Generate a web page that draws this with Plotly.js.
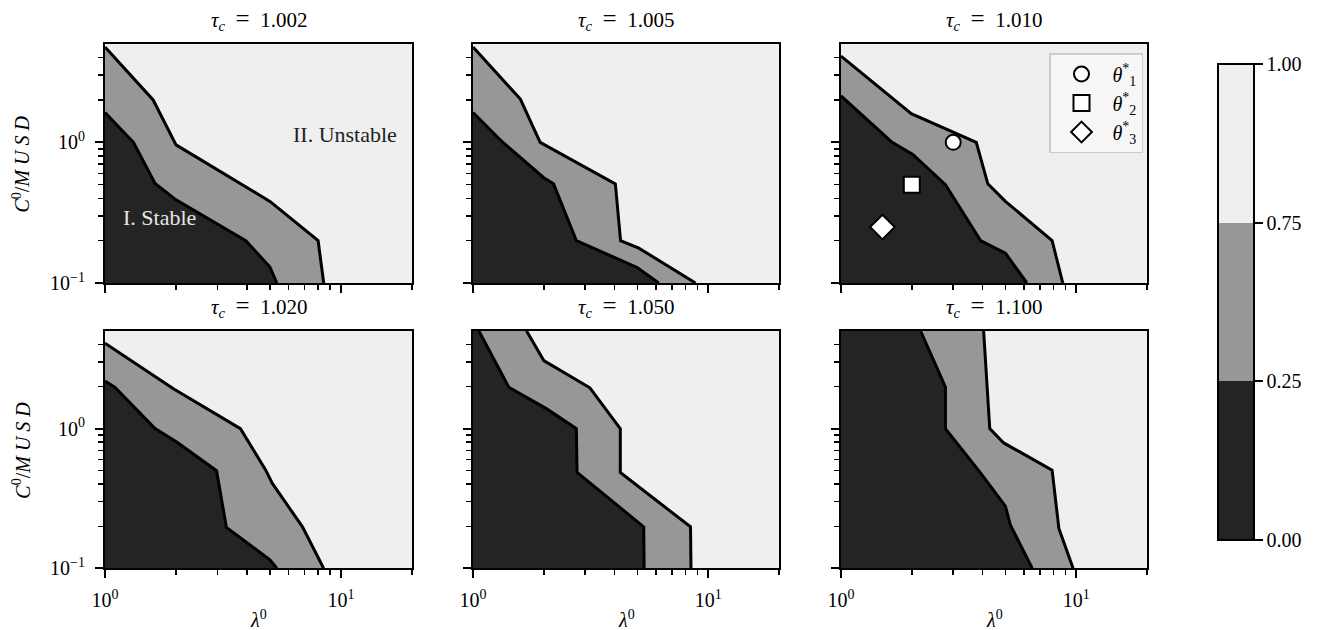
<!DOCTYPE html>
<html>
<head>
<meta charset="utf-8">
<script src="https://cdn.plot.ly/plotly-3.0.1.min.js"></script>
<style>html,body{margin:0;padding:0;background:#fff;}#chart{width:1325px;height:630px;}</style>
</head>
<body>
<div id="chart"></div>
<script>
// ---------------- data ----------------
const tauLabels = ['1.002', '1.005', '1.010', '1.020', '1.050', '1.100'];
const X_RANGE = [1, 20];
const Y_RANGE = [0.1, 5];

// boundary between grey and light region (upper), and dark and grey (lower)
const hi1002X = [1, 1.6, 2.0, 5.0, 8.0, 8.45];
const hi1002Y = [4.75, 2.0, 0.96, 0.38, 0.2, 0.1];
const lo1002X = [1, 1.32, 1.63, 2.0, 3.95, 5.0, 5.35];
const lo1002Y = [1.63, 1.0, 0.51, 0.39, 0.2, 0.13, 0.1];

const hi1005X = [1, 1.59, 1.93, 4.03, 4.24, 5.07, 8.83];
const hi1005Y = [4.75, 2.03, 1.0, 0.507, 0.2, 0.177, 0.1];
const lo1005X = [1, 1.33, 2.0, 2.2, 2.75, 4.99, 6.16];
const lo1005Y = [1.63, 1.01, 0.56, 0.507, 0.2, 0.129, 0.1];

const hi1010X = [1, 1.99, 3.76, 4.21, 5.0, 7.9, 8.77];
const hi1010Y = [4.1, 1.6, 1.0, 0.507, 0.381, 0.2, 0.1];
const lo1010X = [1, 1.65, 2.02, 2.78, 3.92, 5.0, 6.17];
const lo1010Y = [2.14, 1.0, 0.82, 0.5, 0.2, 0.163, 0.1];

const hi1020X = [1, 1.95, 3.75, 4.8, 5.12, 6.87, 8.44];
const hi1020Y = [4.09, 1.93, 1.0, 0.504, 0.405, 0.198, 0.1];
const lo1020X = [1, 1.10, 1.63, 2.02, 2.97, 3.27, 5.0, 5.35];
const lo1020Y = [2.19, 1.98, 1.0, 0.8, 0.5, 0.196, 0.115, 0.1];

const hi1050X = [1.69, 2.0, 3.14, 4.23, 4.23, 8.41, 8.45];
const hi1050Y = [5, 3.07, 1.96, 1.0, 0.485, 0.198, 0.1];
const lo1050X = [1.06, 1.42, 2.05, 2.75, 2.77, 5.32, 5.34];
const lo1050Y = [5, 1.98, 1.39, 1.0, 0.486, 0.198, 0.1];

const hi1100X = [4.04, 4.29, 4.92, 7.9, 8.44, 9.7];
const hi1100Y = [5, 1.0, 0.79, 0.504, 0.193, 0.1];
const lo1100X = [2.18, 2.78, 2.78, 3.89, 5.0, 5.25, 6.5];
const lo1100Y = [5, 1.98, 1.0, 0.49, 0.279, 0.204, 0.1];

// optimal parameter markers (panel tau = 1.010)
const thetaNames = ['<i>θ</i><sup>*</sup><sub>1</sub>', '<i>θ</i><sup>*</sup><sub>2</sub>', '<i>θ</i><sup>*</sup><sub>3</sub>'];
const thetaX = [3, 2, 1.5];
const thetaY = [1, 0.5, 0.25];

// region labels (panel tau = 1.002)
const regionText = ['II. Unstable', 'I. Stable'];
const regionX = [10.4, 1.71];
const regionY = [1.14, 0.29];

// colour bar levels (drawn with uniform spacing)
const levelVals = [0, 0.25, 0.75, 1];

// ---------------- styling ----------------
const C_DARK = '#242424', C_MID = '#979797', C_LIGHT = '#efefef';
const FONT = 'Liberation Serif, Times New Roman, serif';
const FS = 20;
const W = 1325, H = 630;
const colPx = [[105, 412], [473, 779], [841, 1147]];
const rowPx = [[44, 283], [331, 568.3]];
const SP = '\u2002';

const panels = [
  [hi1002X, hi1002Y, lo1002X, lo1002Y],
  [hi1005X, hi1005Y, lo1005X, lo1005Y],
  [hi1010X, hi1010Y, lo1010X, lo1010Y],
  [hi1020X, hi1020Y, lo1020X, lo1020Y],
  [hi1050X, hi1050Y, lo1050X, lo1050Y],
  [hi1100X, hi1100Y, lo1100X, lo1100Y]
];

function closePoly(xs, ys) {
  const px = xs.slice(), py = ys.slice();
  px.push(X_RANGE[0]); py.push(Y_RANGE[0]);
  if (ys[0] >= Y_RANGE[1]) { px.push(X_RANGE[0]); py.push(Y_RANGE[1]); }
  px.push(xs[0]); py.push(ys[0]);
  return [px, py];
}

const traces = [];
const layout = {
  width: W, height: H,
  margin: {l: 0, r: 0, t: 0, b: 0},
  paper_bgcolor: '#ffffff',
  plot_bgcolor: C_LIGHT,
  font: {family: FONT, size: FS, color: '#000'},
  showlegend: true,
  legend: {
    x: 1143 / W, y: 1 - 53 / H, xanchor: 'right', yanchor: 'top',
    bgcolor: 'rgba(248,248,248,0.85)', bordercolor: '#cccccc', borderwidth: 1.5,
    font: {family: FONT, size: FS}, itemsizing: 'trace', itemwidth: 52, tracegroupgap: 0
  },
  annotations: []
};

panels.forEach((p, i) => {
  const k = i + 1;
  const r = Math.floor(i / 3), c = i % 3;
  const xa = 'x' + (k === 1 ? '' : k), ya = 'y' + (k === 1 ? '' : k);
  const [hx, hy, lx, ly] = p;
  const ph = closePoly(hx, hy), pl = closePoly(lx, ly);
  traces.push({type: 'scatter', mode: 'lines', x: ph[0], y: ph[1], xaxis: xa, yaxis: ya,
    fill: 'toself', fillcolor: C_MID, line: {width: 0, color: C_MID}, showlegend: false, hoverinfo: 'skip'});
  traces.push({type: 'scatter', mode: 'lines', x: pl[0], y: pl[1], xaxis: xa, yaxis: ya,
    fill: 'toself', fillcolor: C_DARK, line: {width: 0, color: C_DARK}, showlegend: false, hoverinfo: 'skip'});
  traces.push({type: 'scatter', mode: 'lines', x: hx, y: hy, xaxis: xa, yaxis: ya,
    line: {width: 3, color: '#000'}, showlegend: false, hoverinfo: 'skip'});
  traces.push({type: 'scatter', mode: 'lines', x: lx, y: ly, xaxis: xa, yaxis: ya,
    line: {width: 3, color: '#000'}, showlegend: false, hoverinfo: 'skip'});

  const xd = [colPx[c][0] / W, colPx[c][1] / W];
  const yd = [1 - rowPx[r][1] / H, 1 - rowPx[r][0] / H];
  const common = {
    type: 'log', showgrid: false, zeroline: false,
    showline: true, linecolor: '#000', linewidth: 2, mirror: true,
    ticks: 'outside', ticklen: 8, tickwidth: 2, tickcolor: '#000',
    tickmode: 'array', automargin: false, fixedrange: true,
    tickfont: {family: FONT, size: FS, color: '#000'}
  };
  layout['xaxis' + (k === 1 ? '' : k)] = Object.assign({}, common, {
    domain: xd, anchor: ya, range: [Math.log10(X_RANGE[0]), Math.log10(X_RANGE[1])],
    tickvals: [1, 10], ticktext: ['10<sup>0</sup>', '10<sup>1</sup>'],
    showticklabels: r === 1, ticklabelstandoff: 5,
    minor: {tickmode: 'array', tickvals: [2, 3, 4, 5, 6, 7, 8, 9, 20], ticks: 'outside', ticklen: 5, tickwidth: 1.5, tickcolor: '#000', showgrid: false}
  });
  layout['yaxis' + (k === 1 ? '' : k)] = Object.assign({}, common, {
    domain: yd, anchor: xa, range: [Math.log10(Y_RANGE[0]), Math.log10(Y_RANGE[1])],
    tickvals: [0.1, 1], ticktext: ['10<sup>−1</sup>', '10<sup>0</sup>'],
    showticklabels: c === 0, ticklabelstandoff: 6,
    minor: {tickmode: 'array', tickvals: [0.2, 0.3, 0.4, 0.5, 0.6, 0.7, 0.8, 0.9, 2, 3, 4], ticks: 'outside', ticklen: 5, tickwidth: 1.5, tickcolor: '#000', showgrid: false}
  });

  // panel title
  layout.annotations.push({
    xref: 'paper', yref: 'paper', x: (xd[0] + xd[1]) / 2, y: yd[1] + 25 / H,
    xanchor: 'center', yanchor: 'middle', showarrow: false,
    text: '<i>τ</i><sub><i>c</i></sub>' + SP + '<span style="font-size:25px">=</span>' + SP + tauLabels[i],
    font: {family: FONT, size: 21, color: '#000'}
  });
  if (c === 0) {
    layout.annotations.push({
      xref: 'paper', yref: 'paper', x: 21 / W, y: (yd[0] + yd[1]) / 2,
      xanchor: 'center', yanchor: 'middle', textangle: -90, showarrow: false,
      text: '<i>C</i><sup>0</sup>/<i>M U S D</i>', font: {family: FONT, size: FS, color: '#000'}
    });
  }
  if (r === 1) {
    layout.annotations.push({
      xref: 'paper', yref: 'paper', x: (xd[0] + xd[1]) / 2, y: 1 - 619 / H,
      xanchor: 'center', yanchor: 'middle', showarrow: false,
      text: '<i>λ</i><sup>0</sup>', font: {family: FONT, size: FS, color: '#000'}
    });
  }
});

// region labels
layout.annotations.push({xref: 'x', yref: 'y', x: Math.log10(regionX[0]), y: Math.log10(regionY[0]),
  text: regionText[0], showarrow: false, font: {family: FONT, size: 22, color: '#222'}});
layout.annotations.push({xref: 'x', yref: 'y', x: Math.log10(regionX[1]), y: Math.log10(regionY[1]),
  text: regionText[1], showarrow: false, font: {family: FONT, size: 22, color: '#e6e6e6'}});

// markers
const symbols = ['circle', 'square', 'diamond'];
const sizes = [15, 16, 19];
thetaNames.forEach((nm, j) => {
  traces.push({type: 'scatter', mode: 'markers', x: [thetaX[j]], y: [thetaY[j]], xaxis: 'x3', yaxis: 'y3',
    name: nm, marker: {symbol: symbols[j], size: sizes[j], color: '#fff', line: {color: '#000', width: 2}},
    hoverinfo: 'skip'});
});

// colour bar: uniform spacing of the contour levels, as in matplotlib
const nLev = levelVals.length;
const cbPos = levelVals.map((v, j) => j / (nLev - 1));
const bandColors = [C_DARK, C_MID, C_LIGHT];
const cscale = [];
bandColors.forEach((col, j) => { cscale.push([cbPos[j], col]); cscale.push([cbPos[j + 1], col]); });
traces.push({type: 'scatter', mode: 'markers', x: [null, null], y: [null, null], xaxis: 'x', yaxis: 'y',
  showlegend: false, hoverinfo: 'skip',
  marker: {color: [0, 1], cmin: 0, cmax: 1, showscale: true, colorscale: cscale,
    colorbar: {
      x: 1218 / W, xanchor: 'left', y: 1 - 302 / H, yanchor: 'middle',
      thickness: 36, thicknessmode: 'pixels', len: 476, lenmode: 'pixels',
      xpad: 0, ypad: 0, outlinewidth: 2, outlinecolor: '#000',
      tickmode: 'array', tickvals: cbPos, ticktext: levelVals.map(v => v.toFixed(2)),
      ticks: 'outside', ticklen: 8, tickwidth: 2, tickcolor: '#000', ticklabelstandoff: 6,
      tickfont: {family: FONT, size: FS, color: '#000'}
    }}
});

Plotly.newPlot('chart', traces, layout, {displayModeBar: false, staticPlot: true});
</script>
</body>
</html>
